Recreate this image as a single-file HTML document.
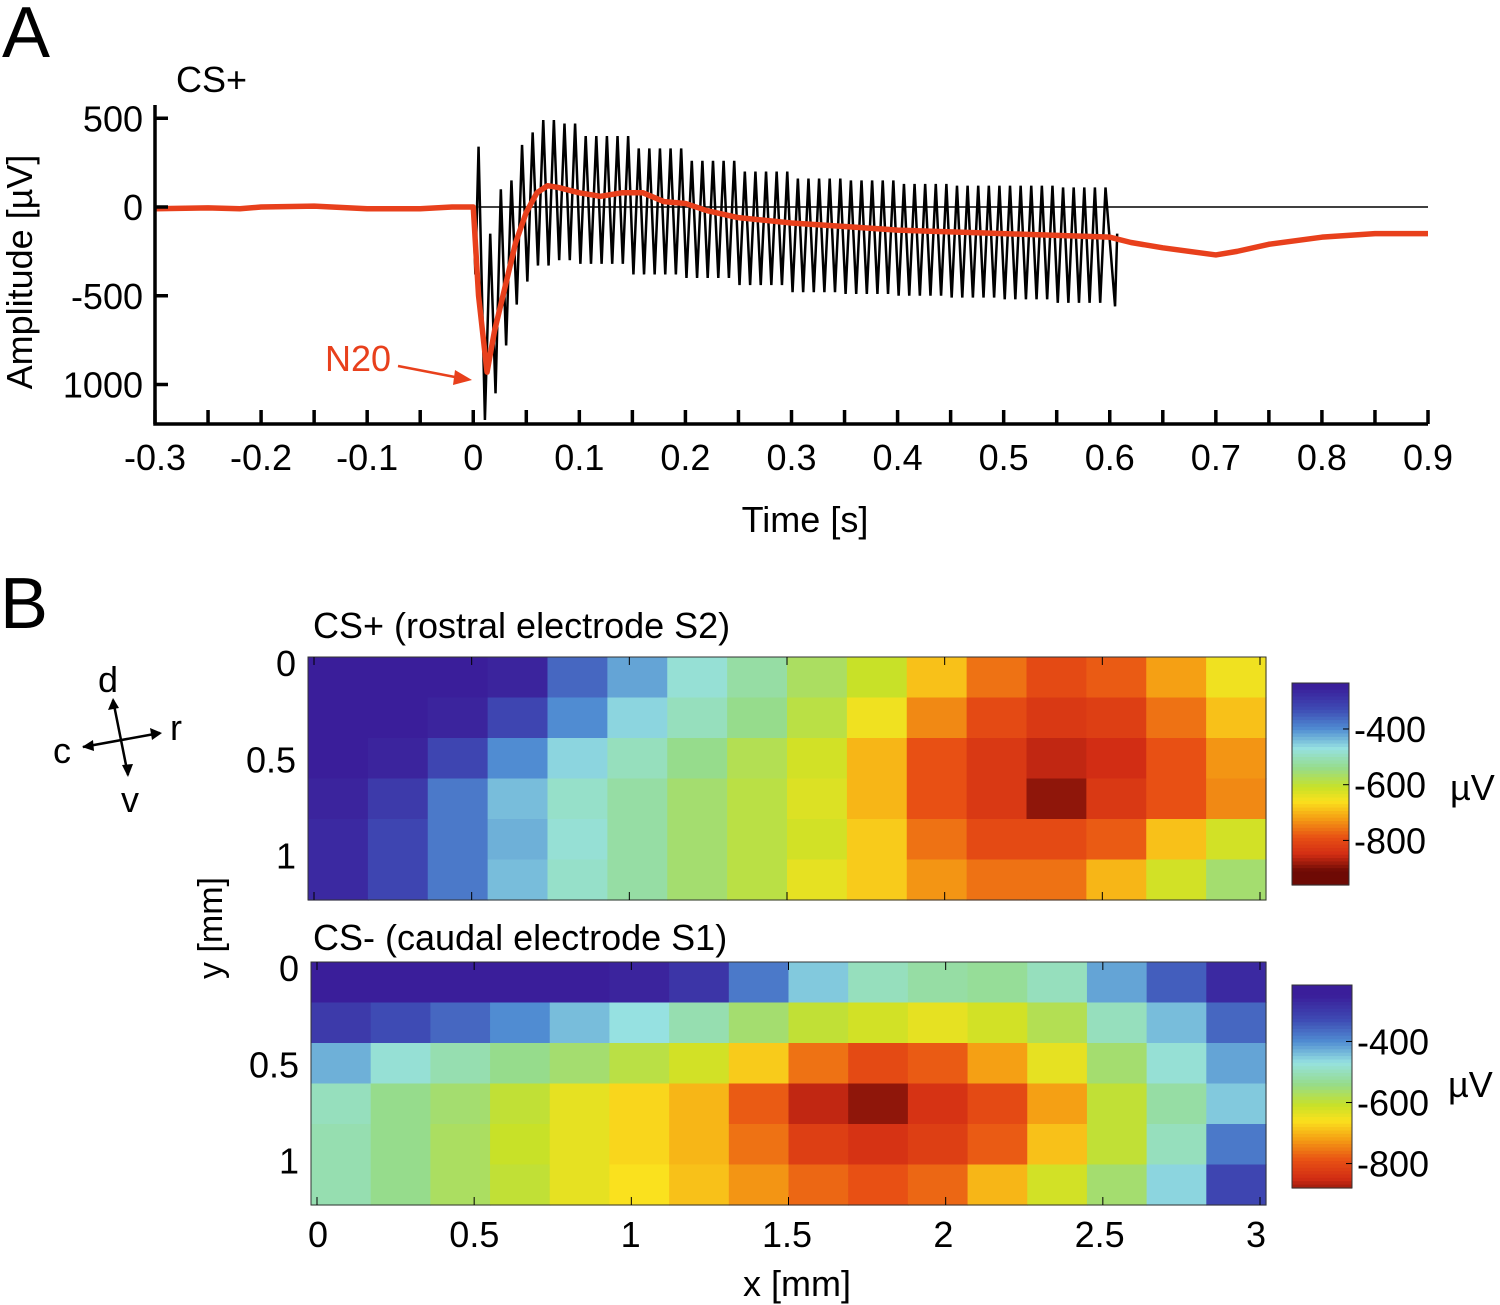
<!DOCTYPE html>
<html><head><meta charset="utf-8"><style>
html,body{margin:0;padding:0;background:#fff}
svg{display:block;font-family:"Liberation Sans",Arial,sans-serif}
</style></head><body>
<svg id="fig" width="1500" height="1305" viewBox="0 0 1500 1305" xmlns="http://www.w3.org/2000/svg">
<text x="2" y="57" font-size="72">A</text>
<text x="0" y="628" font-size="72">B</text>
<text x="176" y="92" font-size="36">CS+</text>
<text transform="translate(32,272) rotate(-90)" text-anchor="middle" font-size="36">Amplitude [µV]</text>
<text x="805" y="532" text-anchor="middle" font-size="36">Time [s]</text>
<g id="plotA"></g>
<text x="325" y="371" font-size="36" fill="#e8401c">N20</text>
<line x1="398" y1="366" x2="460" y2="378" stroke="#e8401c" stroke-width="2.5"/>
<polygon points="472,380 455,370 453,385" fill="#e8401c"/>

<text x="313" y="638" font-size="36">CS+ (rostral electrode S2)</text>
<text x="313" y="950" font-size="36">CS- (caudal electrode S1)</text>
<g id="mapTop"></g>
<g id="mapBot"></g>
<g id="cbars"></g>
<text transform="translate(222,928) rotate(-90)" text-anchor="middle" font-size="34">y [mm]</text>
<text x="797" y="1296" text-anchor="middle" font-size="36">x [mm]</text>
<text x="1450" y="800" font-size="36">µV</text>
<text x="1448" y="1097" font-size="36">µV</text>

<g stroke="#000" stroke-width="2.5" fill="#000">
<line x1="83" y1="747" x2="160" y2="733"/><line x1="113" y1="700" x2="128" y2="775"/>
<polygon points="82,747 93,740 94,751" stroke="none"/><polygon points="162,733 150,728 152,740" stroke="none"/>
<polygon points="113,698 108,710 119,708" stroke="none"/><polygon points="128,777 122,765 133,764" stroke="none"/>
<g stroke="none" font-size="36"><text x="98" y="692">d</text><text x="170" y="740">r</text><text x="53" y="763">c</text><text x="121" y="812">v</text></g>
</g>
</svg>
<script>
// ---------- Panel A data ----------
const redT = [-0.3,-0.25,-0.22,-0.2,-0.15,-0.1,-0.05,-0.02,0,0.005,0.013,0.02,0.03,0.04,0.05,0.06,0.07,0.08,0.1,0.12,0.14,0.16,0.18,0.2,0.22,0.25,0.3,0.35,0.4,0.45,0.5,0.55,0.6,0.62,0.65,0.7,0.72,0.75,0.8,0.85,0.9];
const redV = [-10,-5,-10,0,5,-10,-10,0,0,-500,-930,-700,-450,-200,-30,80,120,110,80,60,80,80,30,20,-20,-60,-90,-110,-130,-140,-150,-160,-170,-200,-230,-270,-250,-210,-170,-150,-150];
const envT = [0.03,0.04,0.05,0.06,0.08,0.1,0.15,0.2,0.25,0.3,0.35,0.4,0.45,0.5,0.55,0.6];
const envPeak = [150,350,420,490,470,400,330,260,200,160,150,130,120,120,110,90];
const envTrough = [-780,-550,-420,-330,-300,-320,-380,-400,-440,-480,-490,-500,-510,-520,-540,-560];
const xTicks = [-0.3,-0.2,-0.1,0,0.1,0.2,0.3,0.4,0.5,0.6,0.7,0.8,0.9];
const yTicks = [500,0,-500,-1000];

const NS='http://www.w3.org/2000/svg';
function mk(tag,attrs,parent){const e=document.createElementNS(NS,tag);for(const k in attrs)e.setAttribute(k,attrs[k]);parent.appendChild(e);return e;}
const X=t=>155+(t+0.3)*(1273/1.2);
const Y=v=>207-v*0.1775;
const gA=document.getElementById('plotA');
let zl=mk('line',{x1:X(0.005),y1:Y(0),x2:X(0.9),y2:Y(0),stroke:'#000','stroke-width':1.5},gA);


function envAt(arr,t){let i=0;for(let k=0;k<envT.length;k++){if(envT[k]<=t+1e-9)i=k;}return arr[i];}
let pts=[[X(0),Y(0)],[X(0.002),Y(-380)],[X(0.005),Y(340)],[X(0.011),Y(-1200)],[X(0.016),Y(-150)],[X(0.021),Y(-1050)],[X(0.026),Y(100)]];
for(let t=0.03;t<=0.6;t+=0.01){pts.push([X(t+0.001),Y(envAt(envTrough,t))]);pts.push([X(t+0.006),Y(envAt(envPeak,t))]);}
pts.push([X(0.605),Y(-560)],[X(0.607),Y(-150)]);
let bl=mk('polyline',{points:pts.map(p=>p.join(',')).join(' '),fill:'none',stroke:'#000','stroke-width':2.5},gA);


let rl=mk('polyline',{points:redT.map((t,i)=>X(t)+','+Y(redV[i])).join(' '),fill:'none',stroke:'#e8401c','stroke-width':5.5,'stroke-linejoin':'round'},gA);


let ax=mk('path',{d:'M155,105 V424 H1428',fill:'none',stroke:'#000','stroke-width':3.5},gA);


for(let t=-0.3;t<=0.901;t+=0.05){mk('line',{x1:X(t),y1:424,x2:X(t),y2:410,stroke:'#000','stroke-width':3.5},gA);}
xTicks.forEach(t=>{let e=mk('text',{x:X(t),y:470,'text-anchor':'middle','font-size':36},gA);e.textContent=(t===0?'0':t.toFixed(1));

});
yTicks.forEach(v=>{mk('line',{x1:155,y1:Y(v),x2:168,y2:Y(v),stroke:'#000','stroke-width':3.5},gA);
let e=mk('text',{x:143,y:Y(v)+13,'text-anchor':'end','font-size':36},gA);e.textContent=v===-1000?'1000':String(v);

});

// ---------- Panel B data ----------
const topMap = [
[-250,-250,-250,-260,-360,-420,-480,-520,-570,-610,-690,-760,-800,-780,-720,-650],
[-250,-250,-260,-320,-400,-460,-500,-540,-590,-650,-740,-800,-830,-820,-760,-690],
[-250,-260,-320,-400,-460,-500,-540,-580,-620,-700,-790,-830,-860,-850,-790,-730],
[-260,-300,-380,-440,-490,-520,-560,-590,-630,-700,-790,-830,-890,-830,-790,-740],
[-270,-320,-380,-430,-480,-520,-560,-590,-620,-680,-760,-800,-800,-780,-690,-620],
[-270,-320,-380,-440,-490,-520,-560,-590,-640,-680,-730,-760,-760,-700,-620,-560]];
const botMap = [
[-250,-250,-250,-250,-250,-260,-290,-380,-450,-500,-520,-530,-500,-420,-350,-270],
[-300,-330,-360,-400,-440,-470,-510,-560,-600,-620,-640,-620,-580,-500,-440,-360],
[-430,-480,-510,-540,-560,-590,-620,-680,-760,-800,-780,-720,-640,-560,-480,-420],
[-500,-540,-560,-600,-640,-670,-700,-780,-860,-890,-840,-800,-720,-600,-520,-450],
[-510,-540,-570,-610,-640,-670,-700,-760,-820,-840,-820,-780,-690,-600,-500,-380],
[-510,-540,-570,-600,-640,-660,-690,-730,-770,-790,-770,-700,-620,-560,-460,-320]];
const mapXTicks=[0,0.5,1,1.5,2,2.5,3];
const mapYTicks=[0,0.5,1];
const cbTicks=[-400,-600,-800];
const stops=[[-250,[58,30,154]],[-330,[62,75,180]],[-400,[80,140,210]],[-470,[150,225,225]],[-540,[150,220,140]],[-610,[200,225,40]],[-660,[250,225,30]],[-720,[245,160,20]],[-790,[232,80,20]],[-850,[210,45,20]],[-910,[110,10,5]]];
function col(v){if(v>=stops[0][0])return 'rgb('+stops[0][1]+')';
for(let i=1;i<stops.length;i++){if(v>=stops[i][0]){const a=stops[i-1],b=stops[i],f=(a[0]-v)/(a[0]-b[0]);return 'rgb('+a[1].map((c,j)=>Math.round(c+(b[1][j]-c)*f))+')';}}
return 'rgb('+stops[stops.length-1][1]+')';}
function drawMap(id,data,x0,y0,w,h){
 const g=document.getElementById(id);const R=data.length,C=data[0].length;
 for(let r=0;r<R;r++)for(let c=0;c<C;c++){
  const e=mk('rect',{x:x0+c*w/C,y:y0+r*h/R,width:w/C+0.6,height:h/R+0.6,fill:col(data[r][c])},g);
  
  }
 mk('rect',{x:x0,y:y0,width:w,height:h,fill:'none',stroke:'#333','stroke-width':1},g);
 mapXTicks.forEach(v=>{const xx=x0+6+v/3*(w-12);mk('line',{x1:xx,y1:y0+h,x2:xx,y2:y0+h-8,stroke:'#000'},g);mk('line',{x1:xx,y1:y0,x2:xx,y2:y0+8,stroke:'#000'},g);});
 mapYTicks.forEach(v=>{const yy=y0+6+v/1.2*(h-12);
  const e=mk('text',{x:x0-12,y:yy+13,'text-anchor':'end','font-size':36},g);e.textContent=String(v);
  
  });
}
drawMap('mapTop',topMap,308,657,958,243);
drawMap('mapBot',botMap,311,962,955,243);
const gB=document.getElementById('mapBot');
mapXTicks.forEach(v=>{const e=mk('text',{x:318+v/3*938,y:1247,'text-anchor':'middle','font-size':36},gB);e.textContent=String(v);

});
const gC=document.getElementById('cbars');
function cbar(x0,y0,w,h,lo,hi){
 const n=60;for(let i=0;i<n;i++){const v=hi+(lo-hi)*(i+0.5)/n;
  const e=mk('rect',{x:x0,y:y0+i*h/n,width:w,height:h/n+0.6,fill:col(v)},gC);
  
  }
 mk('rect',{x:x0,y:y0,width:w,height:h,fill:'none',stroke:'#333','stroke-width':1},gC);
 cbTicks.forEach(v=>{const yy=y0+(hi-v)/(hi-lo)*h;mk('line',{x1:x0+w-6,y1:yy,x2:x0+w,y2:yy,stroke:'#000'},gC);
  const e=mk('text',{x:x0+w+5,y:yy+13,'font-size':36},gC);e.textContent=String(v);
  
  });
}
cbar(1292,683,57,202,-960,-235);
cbar(1292,985,60,203,-880,-215);
</script>
</body></html>
